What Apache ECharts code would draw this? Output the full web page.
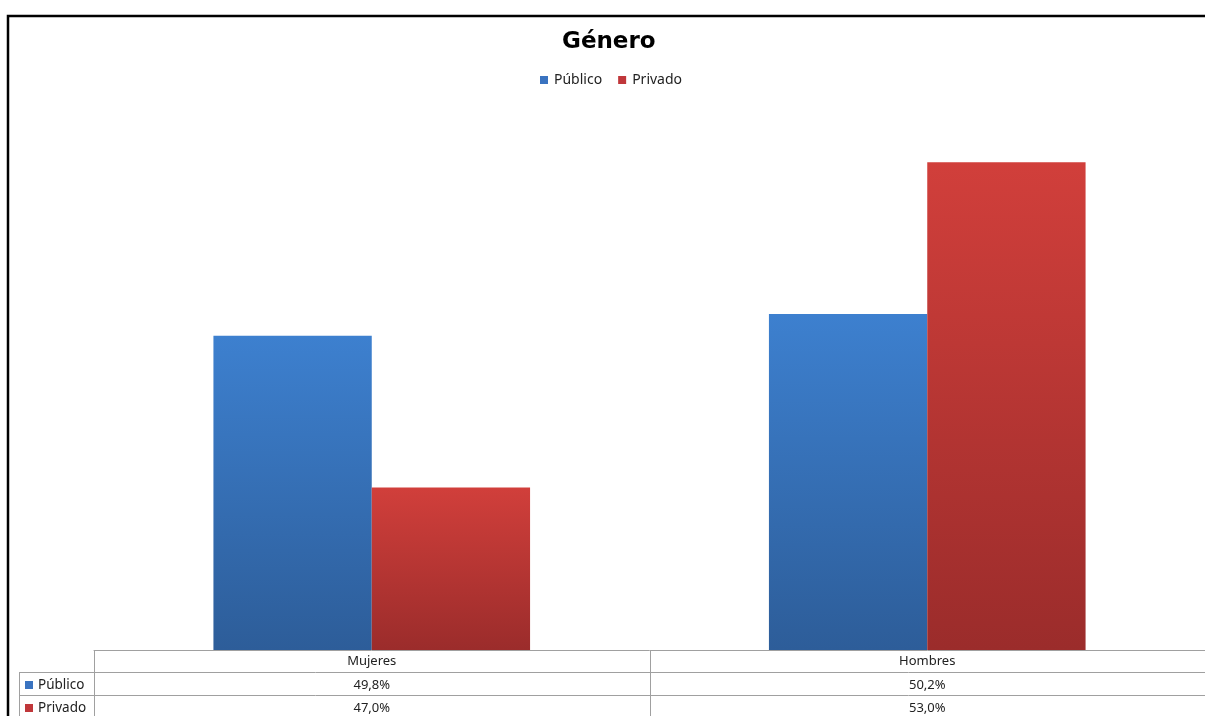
<!DOCTYPE html>
<html>
<head>
<meta charset="utf-8">
<script src="https://cdn.jsdelivr.net/npm/echarts@6/dist/echarts.min.js"></script>
<style>
html,body{margin:0;padding:0;background:#fff;}
#c{width:1205px;height:716px;}
</style>
</head>
<body>
<div id="c"></div>
<script>
var titleText = 'Género';
var categories = ['Mujeres', 'Hombres'];
var seriesNames = ['Público', 'Privado'];
var publico = [49.8, 50.2];
var privado = [47.0, 53.0];

var blueGrad = new echarts.graphic.LinearGradient(0, 0, 0, 1, [
  {offset: 0, color: '#3D80CF'}, {offset: 1, color: '#2D5D99'}]);
var redGrad = new echarts.graphic.LinearGradient(0, 0, 0, 1, [
  {offset: 0, color: '#D13F3B'}, {offset: 1, color: '#9B2C2B'}]);
var legendColors = ['#3A73C0', '#C0373A'];

function fmt(v){ return v.toFixed(1).replace('.', ',') + '%'; }

var chart = echarts.init(document.getElementById('c'), null, {renderer: 'canvas'});
var option = {
  animation: false,
  backgroundColor: '#fff',
  title: {
    text: titleText, left: 557, top: 26,
    textStyle: {fontFamily: 'DejaVu Sans', fontWeight: 'bold', fontSize: 23, color: '#000'}
  },
  legend: {
    top: 68, left: 535, itemWidth: 8, itemHeight: 8, itemGap: 16,
    icon: 'rect',
    textStyle: {fontFamily: 'Noto Sans', fontSize: 14, color: '#222', padding: [0,0,0,1]},
    data: [
      {name: seriesNames[0], itemStyle: {color: legendColors[0]}},
      {name: seriesNames[1], itemStyle: {color: legendColors[1]}}
    ]
  },
  grid: {left: 94, right: 0, top: 108, bottom: 66},
  xAxis: {
    type: 'category', data: categories,
    axisLine: {show: true, lineStyle: {color: '#A0A0A0', width: 1}},
    axisTick: {show: false},
    axisLabel: {show: false}
  },
  yAxis: {
    type: 'value', min: 44, max: 54, show: false,
    splitLine: {show: false}
  },
  series: [
    {name: seriesNames[0], type: 'bar', data: publico, barGap: '0%', barCategoryGap: '43%',
     itemStyle: {color: blueGrad, shadowColor: 'rgba(0,0,0,0.18)', shadowBlur: 3}},
    {name: seriesNames[1], type: 'bar', data: privado,
     itemStyle: {color: redGrad, shadowColor: 'rgba(0,0,0,0.18)', shadowBlur: 3}}
  ]
};
chart.setOption(option);

// Data table built from the arrays and axis positions
var c0 = chart.convertToPixel({xAxisIndex: 0}, categories[0]);
var c1 = chart.convertToPixel({xAxisIndex: 0}, categories[1]);
var band = c1 - c0;
var yBase = chart.convertToPixel({yAxisIndex: 0}, 44);
var tblLeft = 19, keyRight = 94, right = 1205;
var rowH = 23;
var gc = '#A0A0A0';
var els = [];
function line(x1,y1,x2,y2){
  els.push({type:'line', shape:{x1:x1,y1:y1,x2:x2,y2:y2}, style:{stroke:gc, lineWidth:1}, silent:true});
}
var y0 = Math.round(yBase) + 0.5;
var y1 = y0 + 22, y2 = y1 + rowH;
line(tblLeft, y1, right, y1);
line(tblLeft, y2, right, y2);
line(tblLeft + 0.5, y1, tblLeft + 0.5, 716);
line(keyRight + 0.5, y0, keyRight + 0.5, 716);
line(Math.round(c0 + band/2) + 0.5, y0, Math.round(c0 + band/2) + 0.5, 716);
var txtStyle = {fontFamily: 'Noto Sans', fontSize: 13, fill: '#222', align: 'center', verticalAlign: 'middle'};
var centers = [c0, c1];
categories.forEach(function(cat, i){
  els.push({type:'text', x: centers[i], y: (y0 + y1)/2, style: Object.assign({text: cat}, txtStyle), silent:true});
  els.push({type:'text', x: centers[i], y: (y1 + y2)/2 + 1, style: Object.assign({text: fmt(publico[i])}, txtStyle), silent:true});
  els.push({type:'text', x: centers[i], y: y2 + rowH/2 + 1, style: Object.assign({text: fmt(privado[i])}, txtStyle), silent:true});
});
[seriesNames[0], seriesNames[1]].forEach(function(n, i){
  var yc = (i === 0 ? (y1 + y2)/2 + 1 : y2 + rowH/2 + 1);
  els.push({type:'rect', shape:{x:25, y:yc-4, width:8, height:8}, style:{fill: legendColors[i]}, silent:true});
  els.push({type:'text', x: 38, y: yc, style: {text: n, fontFamily: 'Noto Sans', fontSize: 13.5, fill: '#222', align: 'left', verticalAlign: 'middle'}, silent:true});
});
// outer frame
els.push({type:'rect', shape:{x:8, y:16, width:1400, height:900}, style:{fill:'none', stroke:'#000', lineWidth:2.5}, silent:true});
chart.setOption({graphic: {elements: els}});
</script>
</body>
</html>
